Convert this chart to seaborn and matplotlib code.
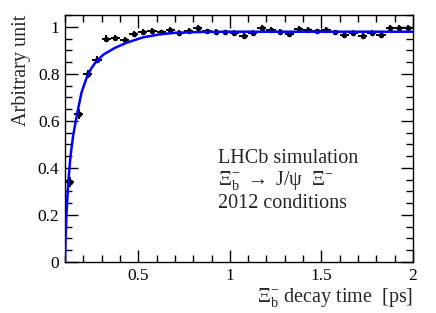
import numpy as np
import pandas as pd
import matplotlib
matplotlib.use("Agg")
import matplotlib.pyplot as plt
import seaborn as sns

# ---- data ----
bin_centers = [0.125 + 0.05 * i for i in range(38)]
values = [0.34, 0.63, 0.80, 0.86, 0.95, 0.952, 0.945, 0.970, 0.977, 0.984,
          0.976, 0.986, 0.973, 0.982, 0.994, 0.980, 0.977, 0.976, 0.973, 0.962,
          0.973, 0.996, 0.988, 0.979, 0.971, 0.990, 0.987, 0.980, 0.986, 0.976,
          0.963, 0.973, 0.960, 0.973, 0.963, 0.994, 0.994, 0.994]
y_errors = [0.02, 0.02, 0.018, 0.016, 0.014, 0.013, 0.013, 0.012, 0.012, 0.012,
            0.012, 0.012, 0.012, 0.012, 0.012, 0.012, 0.012, 0.012, 0.012, 0.012,
            0.012, 0.012, 0.012, 0.012, 0.012, 0.012, 0.012, 0.012, 0.012, 0.012,
            0.012, 0.012, 0.012, 0.012, 0.012, 0.012, 0.012, 0.012]
x_half_width = 0.025

fit_t = [0.100, 0.104, 0.109, 0.118, 0.130, 0.145, 0.166, 0.190, 0.221, 0.245,
         0.270, 0.310, 0.372, 0.436, 0.526, 0.619, 0.711, 0.85, 1.0, 1.5, 2.0]
fit_v = [0.00, 0.12, 0.22, 0.34, 0.45, 0.54, 0.63, 0.72, 0.79, 0.825,
         0.852, 0.882, 0.910, 0.932, 0.955, 0.968, 0.975, 0.978, 0.979, 0.979, 0.979]

x_ticks = [0.5, 1, 1.5, 2]
x_ticklabels = ["0.5", "1", "1.5", "2"]
y_ticks = [0, 0.2, 0.4, 0.6, 0.8, 1]
y_ticklabels = ["0", "0.2", "0.4", "0.6", "0.8", "1"]

df_pts = pd.DataFrame({"t": bin_centers, "v": values, "err": y_errors})
df_fit = pd.DataFrame({"t": fit_t, "v": fit_v})

# ---- style ----
sns.set_theme(style="ticks")
plt.rcParams["font.family"] = ["Liberation Serif", "DejaVu Serif"]
plt.rcParams["mathtext.fontset"] = "custom"
plt.rcParams["mathtext.rm"] = "Liberation Serif"
plt.rcParams["mathtext.it"] = "Liberation Serif:italic"
plt.rcParams["mathtext.bf"] = "Liberation Serif:bold"

fig = plt.figure(figsize=(4.36, 3.13), dpi=100)
ax = fig.add_axes([65 / 436, 1 - 262 / 313, (413 - 65) / 436, (262 - 15) / 313])

ax.errorbar(df_pts["t"], df_pts["v"], yerr=df_pts["err"], xerr=x_half_width,
            fmt="none", ecolor="black", elinewidth=1.4, capsize=0, zorder=3)
sns.scatterplot(data=df_pts, x="t", y="v", ax=ax, color="black", s=16,
                edgecolor="black", linewidth=0, zorder=4, legend=False)
sns.lineplot(data=df_fit, x="t", y="v", ax=ax, color="#0000ff", lw=1.8,
             sort=False, estimator=None, zorder=5)

ax.set_xlim(0.1, 2.0)
ax.set_ylim(0, 1.05)
ax.set_xticks(x_ticks)
ax.set_xticklabels(x_ticklabels)
ax.set_yticks(y_ticks)
ax.set_yticklabels(y_ticklabels)
ax.set_xticks(np.arange(0.1, 2.001, 0.1), minor=True)
ax.set_yticks(np.arange(0, 1.051, 0.05), minor=True)

ax.tick_params(which="both", direction="in", top=True, right=True,
               colors="black", labelsize=12.5, width=1.0)
ax.tick_params(which="major", length=9, pad=4)
ax.tick_params(which="minor", length=5)
for s in ax.spines.values():
    s.set_linewidth(1.0)
    s.set_color("black")

ax.set_xlabel(r"$\Xi_{\rm b}^{-}$ decay time  [ps]", fontsize=14.5,
              loc="right", labelpad=2)
ax.set_ylabel("Arbitrary unit", fontsize=14.5, loc="top", labelpad=5)

fig.text(218 / 436, 1 - 163 / 313, "LHCb simulation", fontsize=14.5,
         ha="left", va="baseline")
fig.text(218 / 436, 1 - 185 / 313,
         r"$\Xi_{\rm b}^{-}$ $\rightarrow$ J/ψ  Ξ$^{-}$",
         fontsize=14.5, ha="left", va="baseline")
fig.text(218 / 436, 1 - 208 / 313, "2012 conditions", fontsize=14.5,
         ha="left", va="baseline")

fig.savefig("out.png", dpi=100)
